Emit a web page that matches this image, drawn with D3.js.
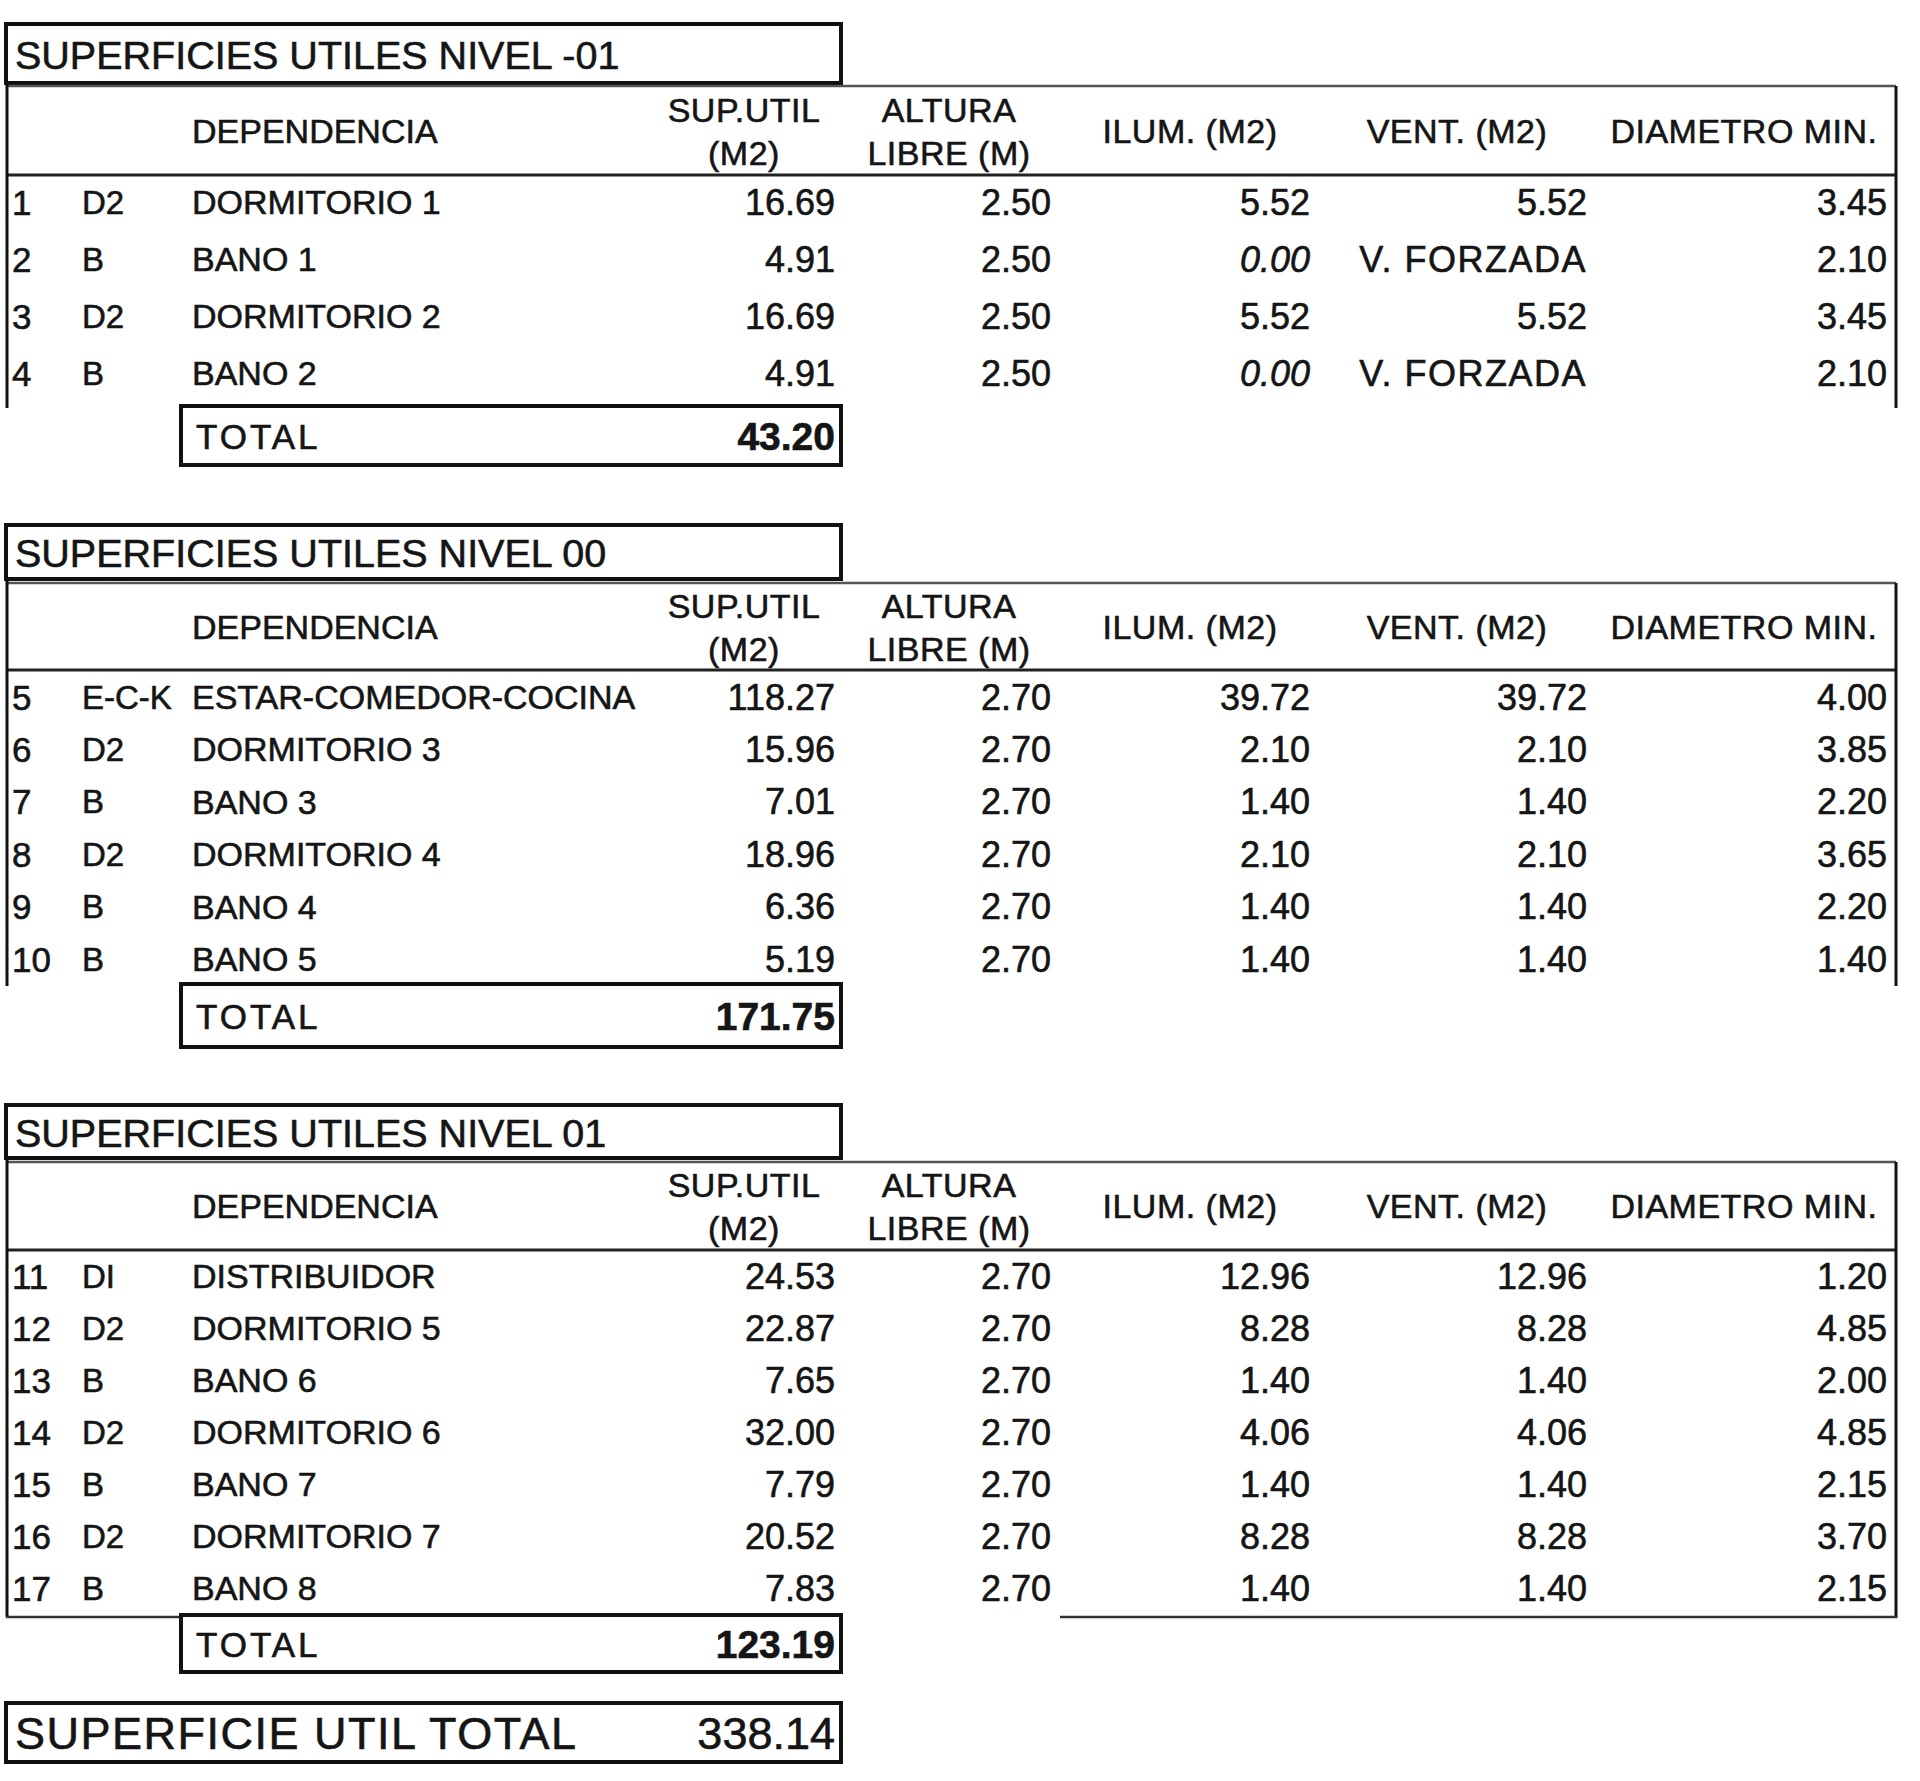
<!DOCTYPE html>
<html>
<head>
<meta charset="utf-8">
<script src="https://cdn.jsdelivr.net/npm/d3@7"></script>
<style>
body{margin:0;background:#fff}
text{font-family:"Liberation Sans",Arial,sans-serif;fill:#151515;stroke:#151515;stroke-width:0.6px}
</style>
</head>
<body>
<svg id="chart" width="1920" height="1781"></svg>
<script>
// datos de las tablas
var levelTitles = ["SUPERFICIES UTILES NIVEL -01", "SUPERFICIES UTILES NIVEL 00", "SUPERFICIES UTILES NIVEL 01"];
var roomLevel = [0,0,0,0, 1,1,1,1,1,1, 2,2,2,2,2,2,2];
var roomNum = [1,2,3,4,5,6,7,8,9,10,11,12,13,14,15,16,17];
var roomCode = ["D2","B","D2","B","E-C-K","D2","B","D2","B","B","DI","D2","B","D2","B","D2","B"];
var roomName = ["DORMITORIO 1","BANO 1","DORMITORIO 2","BANO 2",
  "ESTAR-COMEDOR-COCINA","DORMITORIO 3","BANO 3","DORMITORIO 4","BANO 4","BANO 5",
  "DISTRIBUIDOR","DORMITORIO 5","BANO 6","DORMITORIO 6","BANO 7","DORMITORIO 7","BANO 8"];
var supUtil = [16.69,4.91,16.69,4.91, 118.27,15.96,7.01,18.96,6.36,5.19, 24.53,22.87,7.65,32.00,7.79,20.52,7.83];
var altura = [2.50,2.50,2.50,2.50, 2.70,2.70,2.70,2.70,2.70,2.70, 2.70,2.70,2.70,2.70,2.70,2.70,2.70];
var ilum = [5.52,0.00,5.52,0.00, 39.72,2.10,1.40,2.10,1.40,1.40, 12.96,8.28,1.40,4.06,1.40,8.28,1.40];
var vent = [5.52,"V. FORZADA",5.52,"V. FORZADA", 39.72,2.10,1.40,2.10,1.40,1.40, 12.96,8.28,1.40,4.06,1.40,8.28,1.40];
var diametro = [3.45,2.10,3.45,2.10, 4.00,3.85,2.20,3.65,2.20,1.40, 1.20,4.85,2.00,4.85,2.15,3.70,2.15];

var colKeys = ["num","code","name","sup","alt","ilum","vent","diam"];
var headerLines = [["DEPENDENCIA"],["SUP.UTIL","(M2)"],["ALTURA","LIBRE (M)"],["ILUM. (M2)"],["VENT. (M2)"],["DIAMETRO MIN."]];

var svg = d3.select("#chart");
var fmt = d3.format(".2f");

// posicion de columnas
var colX = d3.scaleOrdinal()
  .domain(colKeys)
  .range([12, 82, 192, 835, 1051, 1310, 1587, 1887]);
var headX = d3.scaleOrdinal()
  .domain(["sup","alt","ilum","vent","diam"])
  .range([744, 949, 1190, 1457, 1744]);

var left = 6, right = 1896, titleRight = 841, totalLeft = 181;

// geometria de cada bloque
var blocks = [
  {titleTop: 24,   titleBot: 83,   hdrTop: 86,   hdrBot: 175,  row0: 202,  step: 57,   end: 408,  totBot: 465},
  {titleTop: 525,  titleBot: 579,  hdrTop: 583,  hdrBot: 670,  row0: 697,  step: 52.4, end: 986,  totBot: 1047},
  {titleTop: 1105, titleBot: 1158, hdrTop: 1162, hdrBot: 1250, row0: 1276, step: 52,   end: 1617, totBot: 1672}
];

blocks.forEach(function(b, li) {
  var g = svg.append("g").attr("class", "nivel");
  var idx = d3.range(roomLevel.length).filter(function(i) { return roomLevel[i] === li; });
  var y = d3.scaleLinear().domain([0, idx.length - 1]).range([b.row0, b.row0 + b.step * (idx.length - 1)]);

  // titulo
  g.append("rect").attr("x", left).attr("y", b.titleTop)
    .attr("width", titleRight - left).attr("height", b.titleBot - b.titleTop)
    .attr("fill", "none").attr("stroke", "#111").attr("stroke-width", 4);
  g.append("text").attr("x", 15).attr("y", (b.titleTop + b.titleBot) / 2 + 1)
    .attr("dominant-baseline", "central").style("font-size", "39.5px")
    .text(levelTitles[li]);

  // cabecera
  g.append("line").attr("x1", left).attr("x2", right).attr("y1", b.hdrTop).attr("y2", b.hdrTop)
    .attr("stroke", "#555").attr("stroke-width", 2.5);
  g.append("line").attr("x1", left).attr("x2", right).attr("y1", b.hdrBot).attr("y2", b.hdrBot)
    .attr("stroke", "#222").attr("stroke-width", 3);
  g.append("line").attr("x1", left + 1).attr("x2", left + 1).attr("y1", b.titleBot).attr("y2", b.end)
    .attr("stroke", "#111").attr("stroke-width", 3);
  g.append("line").attr("x1", right).attr("x2", right).attr("y1", b.hdrTop).attr("y2", b.end)
    .attr("stroke", "#111").attr("stroke-width", 3);

  var midH = (b.hdrTop + b.hdrBot) / 2;
  g.append("text").attr("x", colX("name")).attr("y", midH).attr("dominant-baseline", "central")
    .style("font-size", "34px").text(headerLines[0][0]);
  [["sup", headerLines[1]], ["alt", headerLines[2]], ["ilum", headerLines[3]], ["vent", headerLines[4]], ["diam", headerLines[5]]]
    .forEach(function(h) {
      var lines = h[1];
      lines.forEach(function(t, k) {
        var ty = lines.length === 1 ? midH : midH + (k === 0 ? -21 : 22);
        g.append("text").attr("x", headX(h[0])).attr("y", ty)
          .attr("text-anchor", "middle").attr("dominant-baseline", "central")
          .style("font-size", "34px").style("letter-spacing", "0.5px").text(t);
      });
    });

  // filas
  var rows = g.selectAll("g.row").data(idx).enter().append("g").attr("class", "row")
    .attr("transform", function(i, k) { return "translate(0," + y(k) + ")"; });
  function cell(key, anchor, size, fn, italic, spacing) {
    rows.append("text").attr("x", colX(key)).attr("y", 0)
      .attr("text-anchor", anchor).attr("dominant-baseline", "central")
      .style("font-size", size + "px")
      .style("font-style", function(i) { return italic && italic(i) ? "italic" : null; })
      .style("letter-spacing", spacing ? function(i) { return spacing(i); } : null)
      .text(fn);
  }
  cell("num", "start", 35, function(i) { return roomNum[i]; });
  cell("code", "start", 33, function(i) { return roomCode[i]; });
  cell("name", "start", 34, function(i) { return roomName[i]; });
  cell("sup", "end", 36, function(i) { return fmt(supUtil[i]); });
  cell("alt", "end", 36, function(i) { return fmt(altura[i]); });
  cell("ilum", "end", 36, function(i) { return fmt(ilum[i]); }, function(i) { return ilum[i] === 0; });
  cell("vent", "end", 36, function(i) { return typeof vent[i] === "string" ? vent[i] : fmt(vent[i]); },
    null, function(i) { return typeof vent[i] === "string" ? "1.5px" : null; });
  cell("diam", "end", 36, function(i) { return fmt(diametro[i]); });

  // linea inferior del ultimo bloque
  if (li === 2) {
    g.append("line").attr("x1", left).attr("x2", totalLeft).attr("y1", b.end).attr("y2", b.end)
      .attr("stroke", "#333").attr("stroke-width", 2.5);
    g.append("line").attr("x1", 1060).attr("x2", right + 1.5).attr("y1", b.end).attr("y2", b.end)
      .attr("stroke", "#333").attr("stroke-width", 2.5);
  }

  // total
  var tot = d3.sum(idx, function(i) { return supUtil[i]; });
  g.append("rect").attr("x", totalLeft).attr("y", b.end - 2)
    .attr("width", titleRight - totalLeft).attr("height", b.totBot - b.end + 2)
    .attr("fill", "#fff").attr("stroke", "#111").attr("stroke-width", 4);
  g.append("text").attr("x", 196).attr("y", (b.end + b.totBot) / 2)
    .attr("dominant-baseline", "central").style("font-size", "35px")
    .style("letter-spacing", "3px").text("TOTAL");
  g.append("text").attr("x", colX("sup")).attr("y", (b.end + b.totBot) / 2)
    .attr("text-anchor", "end").attr("dominant-baseline", "central")
    .style("font-size", "39px").style("font-weight", "bold").text(fmt(tot));
});

// superficie util total
var grand = d3.sum(supUtil);
svg.append("rect").attr("x", left).attr("y", 1703).attr("width", titleRight - left).attr("height", 59)
  .attr("fill", "none").attr("stroke", "#111").attr("stroke-width", 4);
svg.append("text").attr("x", 15).attr("y", 1733).attr("dominant-baseline", "central")
  .style("font-size", "45px").style("letter-spacing", "1.5px").text("SUPERFICIE UTIL TOTAL");
svg.append("text").attr("x", colX("sup")).attr("y", 1733)
  .attr("text-anchor", "end").attr("dominant-baseline", "central")
  .style("font-size", "45px").text(fmt(grand));
</script>
</body>
</html>
